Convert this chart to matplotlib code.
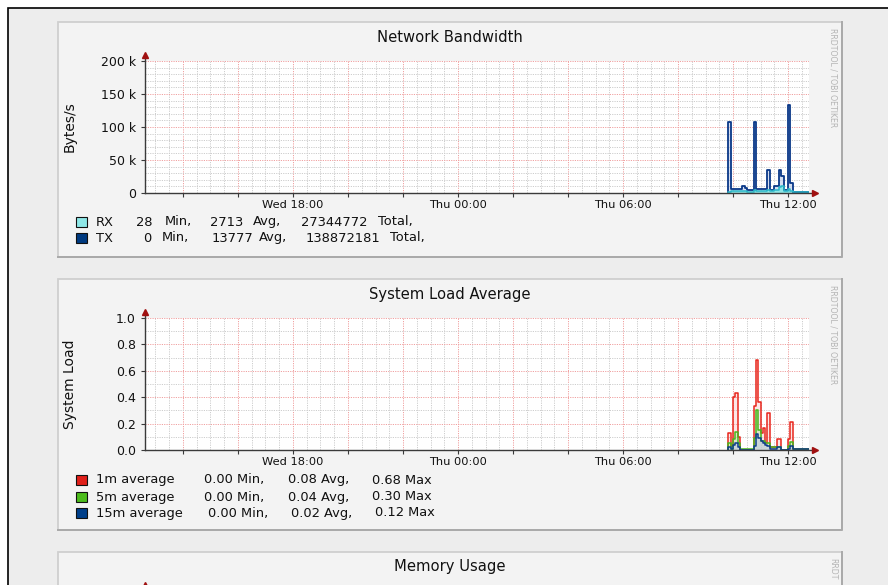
import numpy as np
import matplotlib.pyplot as plt
from matplotlib.patches import Rectangle

W, H = 888, 585

# network traffic (Thu, 5 min steps, bytes/s)
net_times = ["09:50", "09:55", "10:20", "10:25", "10:30", "10:45", "10:50", "11:15", "11:20",
             "11:30", "11:40", "11:45", "11:50", "12:00", "12:05", "12:10", "12:45"]
rx_bytes = [2000, 2500, 3000, 3000, 2000, 5000, 3000, 4000, 3000,
            4000, 9000, 10000, 3000, 6000, 3000, 2000, 2000]
tx_bytes = [107000, 6000, 10000, 7000, 4000, 107000, 6000, 35000, 4000,
            10000, 35000, 26000, 4000, 133000, 15000, 1500, 1500]
rx_stats = ["28", "2713", "27344772"]
tx_stats = ["0", "13777", "138872181"]

# system load (Thu)
load_times = ["09:50", "09:55", "10:00", "10:05", "10:10", "10:15", "10:45", "10:50", "10:55", "11:00",
              "11:05", "11:10", "11:15", "11:20", "11:30", "11:35", "11:45", "12:00", "12:05", "12:10", "12:45"]
load_1m = [0.13, 0.03, 0.40, 0.43, 0.10, 0.0, 0.33, 0.68, 0.36, 0.13,
           0.17, 0.05, 0.28, 0.02, 0.02, 0.08, 0.0, 0.08, 0.21, 0.01, 0.01]
load_5m = [0.05, 0.01, 0.08, 0.14, 0.05, 0.01, 0.09, 0.30, 0.15, 0.07,
           0.07, 0.05, 0.05, 0.02, 0.02, 0.02, 0.0, 0.03, 0.06, 0.01, 0.01]
load_15m = [0.02, 0.01, 0.04, 0.05, 0.02, 0.0, 0.03, 0.12, 0.09, 0.07,
            0.05, 0.04, 0.03, 0.01, 0.01, 0.02, 0.0, 0.01, 0.03, 0.01, 0.01]
load_names = ["1m average", "5m average", "15m average"]
load_stats = [["0.00", "0.08", "0.68"], ["0.00", "0.04", "0.30"], ["0.00", "0.02", "0.12"]]

x_label_hours = [18, 24, 30, 36]
x_labels = ["Wed 18:00", "Thu 00:00", "Thu 06:00", "Thu 12:00"]

AXIS = "#3a3a3a"
ARROW = "#a01010"


def thu(s):
    h, m = s.split(":")
    return 24 + int(h) + int(m) / 60


def px_rect(x0, y0, x1, y1):
    return [x0 / W, 1 - y1 / H, (x1 - x0) / W, (y1 - y0) / H]


def panel(bg, top, bottom, title, mark="RRDTOOL / TOBI OETIKER"):
    bg.add_patch(Rectangle((58, top), 784, bottom - top, facecolor="#f3f3f3",
                           edgecolor="#cfcfcf", lw=1.3, zorder=1))
    bg.plot([842, 842, 58], [top, bottom, bottom], color="#a9a9a9", lw=1.4, zorder=2)
    bg.text(450, top + 15, title, ha="center", va="center", fontsize=10.6, color="#111111")
    bg.text(833, top + 6, mark, rotation=-90, ha="center", va="top",
            fontsize=5.6, color="#b4b4b4")


def graph(ax, ymax, ymajor, yminor, fmt, ylabel):
    ax.set_facecolor("white")
    ax.set_xlim(12.62, 36.76)
    ax.set_ylim(0, ymax)
    for s in ax.spines.values():
        s.set_visible(False)
    major = np.arange(14, 37, 2)
    ax.set_xticks(major)
    ax.set_xticklabels([x_labels[x_label_hours.index(h)] if h in x_label_hours else "" for h in major])
    ax.set_xticks(np.arange(13, 36.8, 0.5), minor=True)
    ax.set_yticks(ymajor)
    ax.set_yticklabels([fmt(v) for v in ymajor])
    ax.set_yticks(yminor, minor=True)
    ax.set_axisbelow(True)
    ax.grid(which="major", color="#f0a0a0", lw=0.7, ls=(0, (1.2, 1.2)))
    ax.grid(which="minor", color="#cdcdcd", lw=0.7, ls=(0, (1.2, 1.2)))
    ax.tick_params(which="major", direction="out", length=3, width=0.8, color=AXIS)
    ax.tick_params(which="minor", length=0)
    ax.tick_params(axis="x", labelsize=8.2, pad=2.2, labelcolor="#111111")
    ax.tick_params(axis="y", labelsize=9, pad=3.6, labelcolor="#111111")
    ax.plot([0, 1 + 2 / 664], [0, 0], color=AXIS, lw=1, transform=ax.transAxes, clip_on=False, zorder=5)
    ax.plot([0, 0], [0, 1 + 4 / 132], color=AXIS, lw=1, transform=ax.transAxes, clip_on=False, zorder=5)
    ax.plot([1 + 6 / 664], [0], marker=">", ms=5, color=ARROW, transform=ax.transAxes, clip_on=False, zorder=6)
    ax.plot([0], [1 + 6 / 132], marker="^", ms=5, color=ARROW, transform=ax.transAxes, clip_on=False, zorder=6)
    ax.text(-75 / 664, 0.5, ylabel, rotation=90, ha="center", va="center", fontsize=10,
            color="#111111", transform=ax.transAxes)


def series(ax, times, values, line, fill, alpha, lw=1.1):
    t = np.r_[thu(times[0]), [thu(s) for s in times]]
    v = np.r_[0, values]
    ax.fill_between(t, v, step="post", color=fill, alpha=alpha, lw=0, zorder=3)
    ax.step(t, v, where="post", color=line, lw=lw, zorder=4)


def swatch(bg, y, color):
    bg.add_patch(Rectangle((76, y - 5), 11, 10, facecolor=color, edgecolor="#111111", lw=0.8, zorder=3))


fig = plt.figure(figsize=(W / 100, H / 100), dpi=100)
fig.patch.set_facecolor("white")
bg = fig.add_axes([0, 0, 1, 1])
bg.set_xlim(0, W)
bg.set_ylim(H, 0)
bg.axis("off")
bg.add_patch(Rectangle((8, 8), 900, 600, facecolor="#ededed", edgecolor="black", lw=1.2, zorder=0))

panel(bg, 22, 257, "Network Bandwidth")
panel(bg, 279, 530, "System Load Average")
panel(bg, 552, 720, "Memory Usage", mark="RRDT")
bg.plot([145], [585], marker="^", ms=5, color=ARROW, zorder=6)

# network graph
ax1 = fig.add_axes(px_rect(145, 61, 809, 193))
graph(ax1, 200000, [0, 50000, 100000, 150000, 200000], np.arange(0, 200001, 10000),
      lambda v: "0" if v == 0 else f"{int(v / 1000)} k", "Bytes/s")
series(ax1, net_times, tx_bytes, "#0a3888", "#b8c8e8", 0.6, lw=1.3)
series(ax1, net_times, rx_bytes, "#2cb8c8", "#8fe6e6", 1.0)

leg_font = 9.4
rows = [("RX", rx_stats, "#8fe8e8", 222, [152, 165, 243, 253, 367, 378]),
        ("TX", tx_stats, "#003a80", 238, [151, 162, 253, 259, 380, 390])]
for name, stats, col, y, xs in rows:
    swatch(bg, y, col)
    bg.text(96, y, name, ha="left", va="center", fontsize=leg_font, color="#111111")
    for val, word, xv, xw in zip(stats, ["Min,", "Avg,", "Total,"], xs[0::2], xs[1::2]):
        bg.text(xv, y, val, ha="right", va="center", fontsize=leg_font, color="#111111")
        bg.text(xw, y, word, ha="left", va="center", fontsize=leg_font, color="#111111")

# load graph
ax2 = fig.add_axes(px_rect(145, 318, 809, 450))
graph(ax2, 1.0, np.arange(0, 1.01, 0.2), np.arange(0, 1.01, 0.1), lambda v: f"{v:.1f}", "System Load")
series(ax2, load_times, load_1m, "#e8261c", "#f6b0b0", 0.3)
series(ax2, load_times, load_5m, "#48b81c", "#b0e0a0", 0.4)
series(ax2, load_times, load_15m, "#0b3c8c", "#b8c8e8", 0.5)

load_colors = ["#e0201a", "#4cbc1c", "#003f8a"]
load_rows_y = [480, 497, 513]
load_cols_x = [[204, 288, 372], [204, 288, 372], [208, 291, 375]]
for name, stats, col, y, xs in zip(load_names, load_stats, load_colors, load_rows_y, load_cols_x):
    swatch(bg, y, col)
    bg.text(96, y, name, ha="left", va="center", fontsize=leg_font, color="#111111")
    for val, word, x in zip(stats, ["Min,", "Avg,", "Max"], xs):
        bg.text(x, y, f"{val} {word}", ha="left", va="center", fontsize=leg_font, color="#111111")

fig.savefig("out.png", dpi=100)
